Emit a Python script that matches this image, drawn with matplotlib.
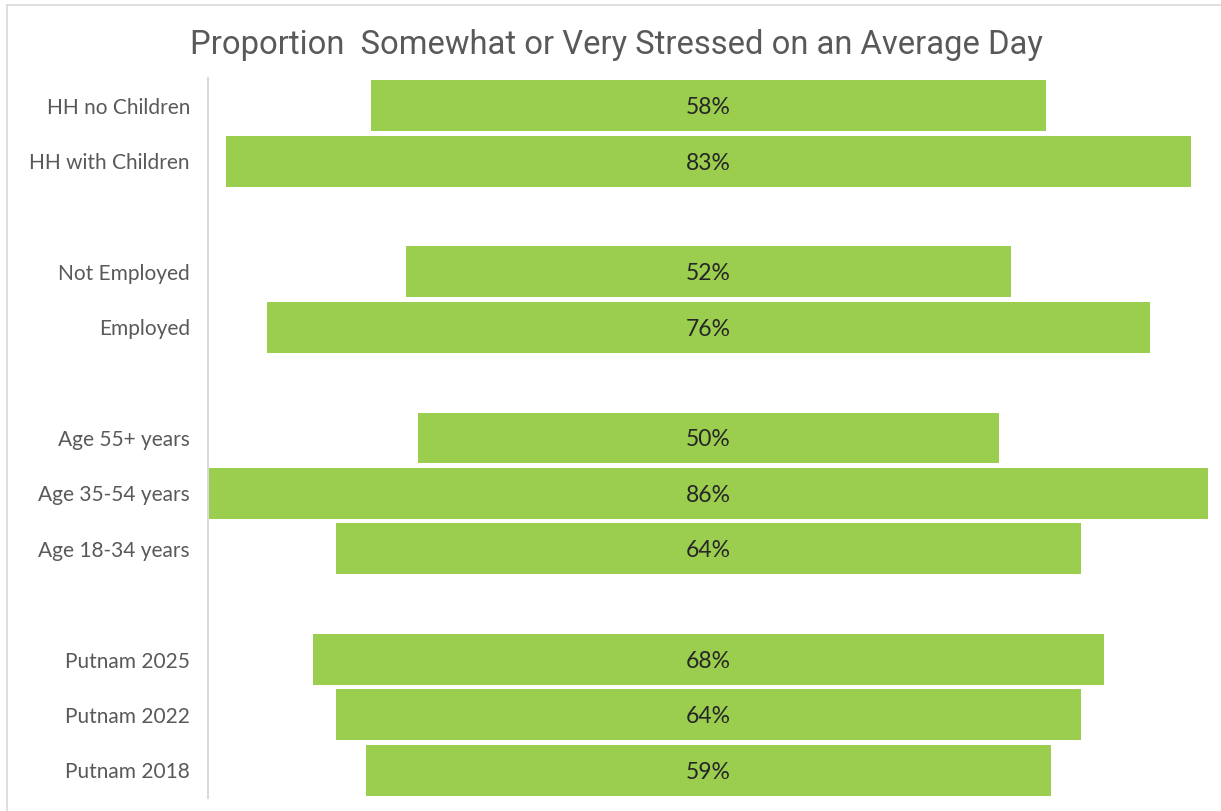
import matplotlib
matplotlib.use("Agg")
import matplotlib.pyplot as plt
from matplotlib.lines import Line2D
from matplotlib import font_manager

# Survey groups, listed top to bottom; a blank row separates groups
household_labels = ["HH no Children", "HH with Children"]
household_values = [58, 83]
employment_labels = ["Not Employed", "Employed"]
employment_values = [52, 76]
age_labels = ["Age 55+ years", "Age 35-54 years", "Age 18-34 years"]
age_values = [50, 86, 64]
year_labels = ["Putnam 2025", "Putnam 2022", "Putnam 2018"]
year_values = [68, 64, 59]

groups = [
    (household_labels, household_values),
    (employment_labels, employment_values),
    (age_labels, age_values),
    (year_labels, year_values),
]

installed = {f.name for f in font_manager.fontManager.ttflist}
title_font = "Liberation Sans Narrow" if "Liberation Sans Narrow" in installed else "Roboto"

BAR = "#9BCD4E"
GREY_TEXT = "#595959"

fig = plt.figure(figsize=(12.21, 8.11), dpi=100)
ax = fig.add_axes([208 / 1221, 1 - 798 / 811, 1001 / 1221, 720 / 811])

rows, labels, values = [], [], []
r = 0
for gi, (labs, vals) in enumerate(groups):
    for lab, v in zip(labs, vals):
        rows.append(r)
        labels.append(lab)
        values.append(v)
        r += 1
    if gi < len(groups) - 1:
        r += 1
n_rows = r

# Centered (funnel-style) bars
ax.barh(rows, values, left=[-v / 2 for v in values], height=0.92,
        color=BAR, edgecolor="none")
for y, v in zip(rows, values):
    ax.text(0, y, f"{v}%", ha="center", va="center_baseline", fontsize=16.5,
            family="Lato", color="#262626")

ax.set_xlim(-43.05, 43.05)
ax.set_ylim(n_rows - 0.5, -0.5)
ax.set_yticks(rows)
ax.set_yticklabels(labels, fontsize=15, family="Lato", color=GREY_TEXT)
ax.tick_params(axis="y", length=0, pad=13)
ax.set_xticks([])
for side in ["top", "right", "bottom"]:
    ax.spines[side].set_visible(False)
ax.spines["left"].set_color("#D9D9D9")
ax.spines["left"].set_linewidth(1.5)

fig.text(616 / 1221, 1 - 45 / 811,
         "Proportion  Somewhat or Very Stressed on an Average Day",
         ha="center", va="center", fontsize=23.6, family=title_font,
         color=GREY_TEXT)

# Chart-area border (top and left edges)
fig.add_artist(Line2D([7 / 1221, 1.0], [1 - 5 / 811, 1 - 5 / 811],
                      transform=fig.transFigure, color="#D9D9D9", lw=1.2))
fig.add_artist(Line2D([7 / 1221, 7 / 1221], [0, 1 - 5 / 811],
                      transform=fig.transFigure, color="#D9D9D9", lw=1.2))

fig.savefig("out.png", dpi=100, facecolor="white")
